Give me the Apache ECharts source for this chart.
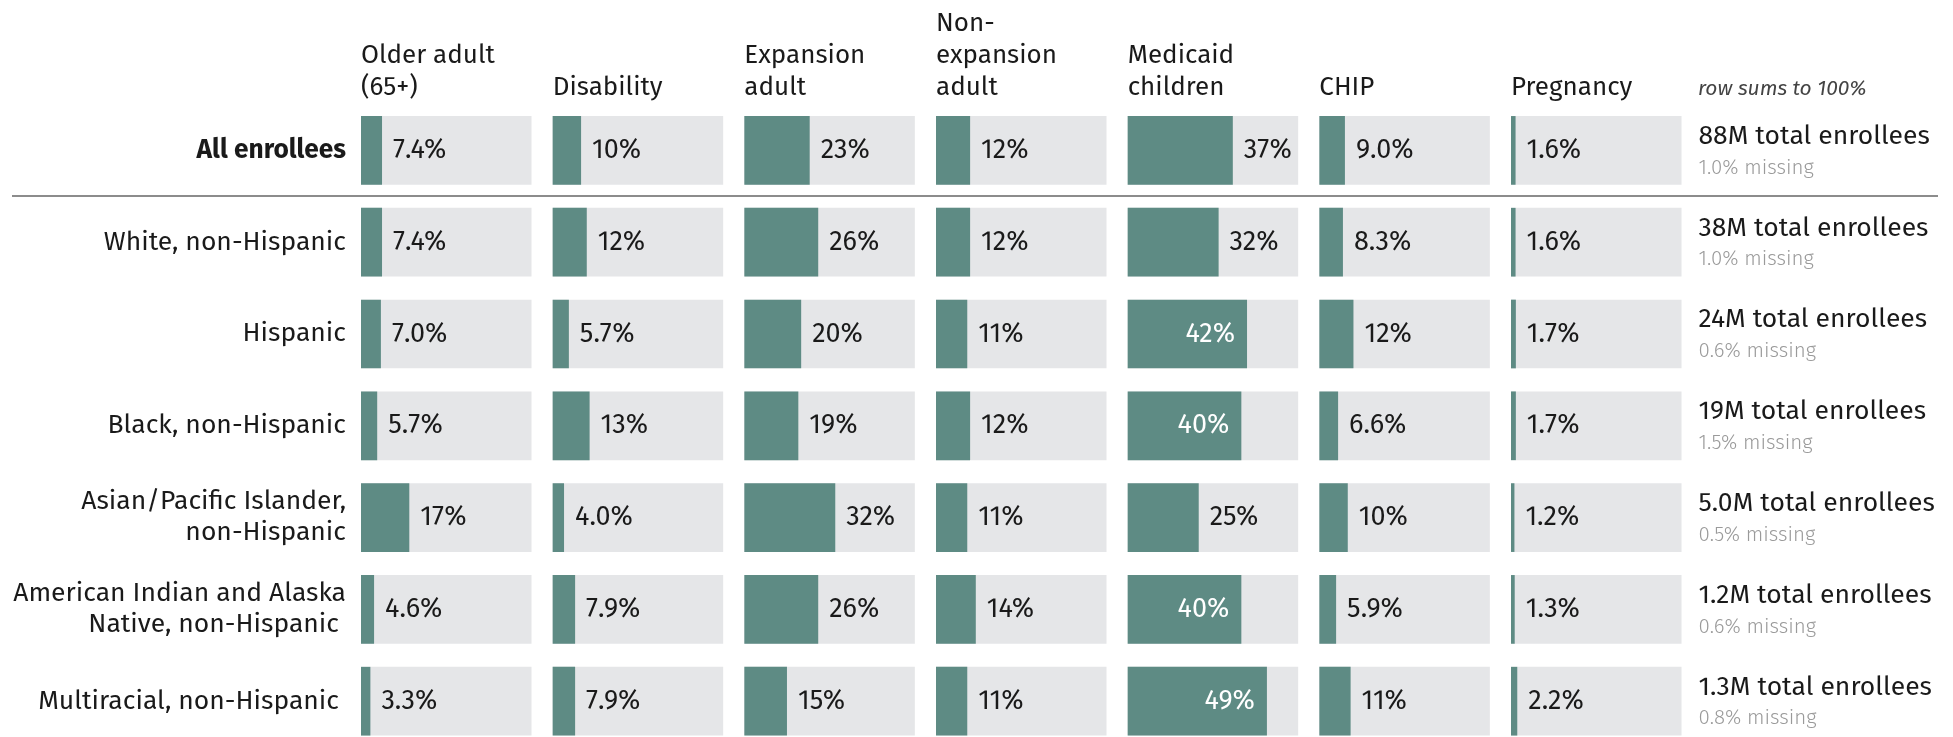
<!DOCTYPE html>
<html>
<head>
<meta charset="utf-8">
<title>Medicaid enrollment by eligibility group and race/ethnicity</title>
<script src="https://cdn.jsdelivr.net/npm/echarts@6/dist/echarts.min.js"></script>
<style>
  html, body { margin: 0; padding: 0; background: #fff; }
  #main { width: 1953px; height: 737px; }
</style>
</head>
<body>
<div id="main"></div>
<script>
// 数据
const columns = ['Older adult\n(65+)', 'Disability', 'Expansion\nadult', 'Non-\nexpansion\nadult', 'Medicaid\nchildren', 'CHIP', 'Pregnancy']
const rows = [
  'All enrollees',
  'White, non-Hispanic',
  'Hispanic',
  'Black, non-Hispanic',
  'Asian/Pacific Islander,\nnon-Hispanic',
  'American Indian and Alaska\nNative, non-Hispanic ',
  'Multiracial, non-Hispanic '
]
const olderAdult = [7.4, 7.4, 7.0, 5.7, 17, 4.6, 3.3]
const disability = [10, 12, 5.7, 13, 4.0, 7.9, 7.9]
const expansionAdult = [23, 26, 20, 19, 32, 26, 15]
const nonExpansionAdult = [12, 12, 11, 12, 11, 14, 11]
const medicaidChildren = [37, 32, 42, 40, 25, 40, 49]
const chip = [9.0, 8.3, 12, 6.6, 10, 5.9, 11]
const pregnancy = [1.6, 1.6, 1.7, 1.7, 1.2, 1.3, 2.2]
const totals = ['88M', '38M', '24M', '19M', '5.0M', '1.2M', '1.3M']
const missing = ['1.0%', '1.0%', '0.6%', '1.5%', '0.5%', '0.6%', '0.8%']
const note = 'row sums to 100%'
const axisMax = 60

const values = [olderAdult, disability, expansionAdult, nonExpansionAdult, medicaidChildren, chip, pregnancy]

const font = '"Fira Sans", "Open Sans", sans-serif'
const barColor = '#5e8b84'
const bgColor = '#e5e6e8'
const textColor = '#1a1a1a'

const panelLeft = 361
const panelPitch = 191.67
const panelWidth = 170.5
const gridTop = 104.5
const rowPitch = 91.8

const fmt = v => (v >= 10 ? Math.round(v) : v.toFixed(1)) + '%'

const grids = []
const xAxes = []
const yAxes = []
const series = []
const titles = []

columns.forEach((name, i) => {
  const left = panelLeft + i * panelPitch
  grids.push({
    left: left,
    top: gridTop,
    width: panelWidth,
    height: rowPitch * rows.length,
    containLabel: false,
    outerBoundsMode: 'none'
  })
  xAxes.push({
    gridIndex: i,
    type: 'value',
    min: 0,
    max: axisMax,
    show: false
  })
  const yAxis = {
    gridIndex: i,
    type: 'category',
    data: rows,
    inverse: true,
    axisLine: { show: false },
    axisTick: { show: false },
    splitLine: { show: false },
    axisLabel: { show: false }
  }
  if (i === 0) {
    yAxis.axisLabel = {
      show: true,
      margin: 15,
      fontFamily: font,
      fontSize: 26.5,
      lineHeight: 31,
      color: textColor,
      formatter: (v, idx) => idx === 0 ? '{b|' + v + '}' : v,
      rich: {
        b: { fontFamily: font, fontSize: 26.3, fontWeight: 'bold', color: textColor }
      }
    }
  }
  if (i === columns.length - 1) {
    yAxis.position = 'right'
    yAxis.axisLabel = {
      show: true,
      margin: 17,
      align: 'left',
      formatter: (v, idx) => '{a|' + totals[idx] + ' total enrollees}\n{m|' + missing[idx] + ' missing}',
      rich: {
        a: { fontFamily: font, fontSize: 26.5, lineHeight: 35, color: textColor },
        m: { fontFamily: font, fontSize: 20.5, lineHeight: 28, fontWeight: 300, color: '#9a9a9a' }
      }
    }
  }
  yAxes.push(yAxis)

  series.push({
    type: 'bar',
    name: name.replace(/\n/g, ' '),
    xAxisIndex: i,
    yAxisIndex: i,
    barWidth: 68.7,
    showBackground: true,
    backgroundStyle: { color: bgColor },
    itemStyle: { color: barColor },
    silent: true,
    data: values[i].map(v => {
      const inside = v > 38
      return {
        value: v,
        label: {
          show: true,
          position: inside ? 'insideRight' : 'right',
          distance: inside ? 12 : 11,
          formatter: fmt(v),
          fontFamily: font,
          fontSize: 27,
          color: inside ? '#fff' : textColor
        }
      }
    })
  })

  titles.push({
    text: name,
    left: left,
    bottom: 633,
    padding: 0,
    textStyle: { fontFamily: font, fontSize: 26, fontWeight: 'normal', lineHeight: 32, color: textColor }
  })
})

titles.push({
  text: note,
  left: 1698,
  bottom: 632,
  padding: 0,
  textStyle: { fontFamily: font, fontSize: 21, fontStyle: 'italic', fontWeight: 'normal', lineHeight: 32, color: '#444' }
})

const myChart = echarts.init(document.getElementById('main'), null, { renderer: 'canvas' })
myChart.setOption({
  animation: false,
  title: titles,
  grid: grids,
  xAxis: xAxes,
  yAxis: yAxes,
  series: series,
  graphic: [{
    type: 'line',
    shape: { x1: 12, y1: 196, x2: 1938, y2: 196 },
    style: { stroke: '#666', lineWidth: 1.5 },
    silent: true
  }]
})
window.addEventListener('resize', () => myChart.resize())
</script>
</body>
</html>
